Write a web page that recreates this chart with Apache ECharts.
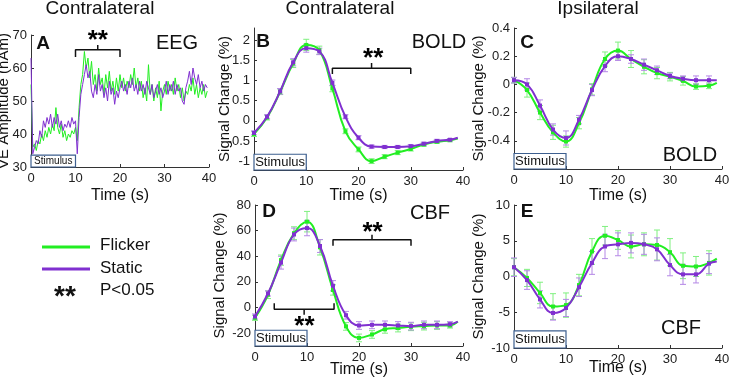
<!DOCTYPE html>
<html>
<head>
<meta charset="utf-8">
<script src="https://cdn.jsdelivr.net/npm/echarts@6/dist/echarts.min.js"></script>
<style>
html, body { margin: 0; padding: 0; background: #fff; }
#main { width: 729px; height: 377px; }
</style>
</head>
<body>
<div id="main"></div>
<script>
// EEG virtual electrode amplitude, one value every 0.4 s
const eegStep = 0.4;
const eegFlicker = [
  55, 36, 37, 35, 38, 37, 40, 38, 41, 39,
  42, 40, 43, 41, 48, 42, 40, 43, 39, 41,
  38, 40, 39, 41, 40, 42, 38, 48, 55, 58,
  65, 60, 63, 57, 62, 55, 58, 53, 60, 55,
  57, 52, 58, 54, 59, 53, 56, 52, 57, 53,
  58, 54, 57, 53, 56, 54, 58, 55, 60, 54,
  57, 53, 56, 51, 54, 50, 61, 52, 55, 50,
  54, 51, 56, 47, 53, 55, 52, 56, 53, 55,
  52, 57, 53, 55, 51, 54, 50, 53, 52, 55,
  53, 57, 52, 55, 51, 54, 52, 55, 51, 53
];
const eegStatic = [
  63, 34, 36, 38, 37, 41, 39, 44, 42, 45,
  43, 46, 42, 45, 43, 46, 42, 44, 41, 43,
  42, 44, 42, 45, 43, 44, 34, 45, 52, 55,
  58, 61, 57, 59, 53, 51, 55, 52, 58, 53,
  55, 51, 54, 50, 56, 52, 54, 49, 53, 51,
  54, 56, 53, 55, 52, 56, 54, 57, 53, 55,
  52, 56, 53, 55, 52, 56, 54, 52, 55, 51,
  53, 55, 52, 54, 51, 53, 56, 52, 55, 53,
  56, 52, 55, 53, 54, 50, 49, 54, 56, 59,
  55, 60, 57, 55, 58, 54, 56, 53, 55, 54
];

// fMRI time points (s); last one is the curve end, no marker
const fmriTime = [0, 2.5, 5, 7.5, 10, 12.5, 15, 17.5, 20, 22.5, 25, 27.5, 30, 32.5, 35, 37.5, 39];

// B: contralateral BOLD (%)
const boldContraFlicker = [-0.33, 0.08, 0.72, 1.42, 1.88, 1.75, 0.8, -0.26, -0.71, -1.0, -0.89, -0.79, -0.7, -0.59, -0.52, -0.48, -0.44];
const boldContraStatic  = [-0.3, 0.1, 0.73, 1.45, 1.8, 1.72, 0.94, 0.1, -0.42, -0.64, -0.65, -0.65, -0.63, -0.57, -0.5, -0.47, -0.42];
const boldContraFlickerErr = [0.06, 0.06, 0.07, 0.1, 0.14, 0.1, 0.08, 0.06, 0.06, 0.06, 0.05, 0.05, 0.05, 0.04, 0.04, 0.04];
const boldContraStaticErr  = [0.05, 0.05, 0.07, 0.09, 0.1, 0.08, 0.07, 0.05, 0.05, 0.04, 0.04, 0.04, 0.04, 0.04, 0.04, 0.03];

// C: ipsilateral BOLD (%)
const boldIpsiFlicker = [0.03, -0.04, -0.2, -0.34, -0.405, -0.275, -0.035, 0.18, 0.24, 0.18, 0.125, 0.08, 0.055, 0.025, -0.015, -0.01, 0.01];
const boldIpsiStatic  = [0.03, 0.0, -0.15, -0.32, -0.38, -0.25, -0.04, 0.13, 0.2, 0.18, 0.14, 0.1, 0.06, 0.04, 0.03, 0.03, 0.03];
const boldIpsiFlickerErr = [0.02, 0.05, 0.05, 0.05, 0.04, 0.04, 0.04, 0.05, 0.06, 0.06, 0.05, 0.04, 0.03, 0.03, 0.02, 0.02];
const boldIpsiStaticErr  = [0.02, 0.04, 0.04, 0.04, 0.05, 0.03, 0.04, 0.04, 0.03, 0.03, 0.04, 0.03, 0.02, 0.02, 0.03, 0.03];

// D: contralateral CBF (%)
const cbfContraFlicker = [-8, 10, 37, 58, 67, 47, 13.7, -14.7, -23.7, -21, -17, -16, -15, -14.5, -14, -14, -11];
const cbfContraStatic  = [-7, 11, 35, 57, 62, 48, 17, -6, -14, -13.5, -13.5, -14, -14.5, -13.5, -13.5, -13, -11];
const cbfContraFlickerErr = [2, 3, 4, 5, 8, 6, 4, 3, 3, 3, 3, 3, 3, 3, 3, 2];
const cbfContraStaticErr  = [2, 2, 5, 5, 6, 5, 4, 3, 3, 3, 3, 3, 3, 3, 3, 2];

// E: ipsilateral CBF (%)
const cbfIpsiFlicker = [1.3, -0.2, -2.3, -4.2, -4.0, -1.2, 3.5, 5.7, 5.1, 4.2, 4.5, 4.4, 3.4, 1.5, 1.4, 1.9, 2.5];
const cbfIpsiStatic  = [1.3, -0.5, -3.2, -5.1, -4.4, -1.5, 1.9, 4.2, 4.5, 4.7, 4.5, 3.8, 1.6, 0.3, 0.3, 1.8, 2.1];
const cbfIpsiFlickerErr = [1.2, 1.2, 1.5, 1.8, 1.7, 1.5, 1.8, 1.3, 1.3, 1.6, 1.6, 2.1, 1.9, 1.8, 1.4, 1.7];
const cbfIpsiStaticErr  = [1.3, 1.3, 1.2, 1.0, 1.2, 1.3, 1.6, 1.7, 1.6, 1.4, 1.4, 1.6, 1.5, 1.4, 1.2, 1.4];

// significance brackets: [start, end, level] in data units
const sigA  = [10, 20, 65.5];
const sigB  = [15, 30, 1.3];
const sigD1 = [15, 30, 52.9];
const sigD2 = [3.7, 15.2, -1.4];

const GREEN = "#22ee22";
const PURPLE = "#8030d0";
const GREEN_ERR = "#7ff07f";
const PURPLE_ERR = "#b487e6";
const FONT = "Liberation Sans";

const chart = echarts.init(document.getElementById("main"));

function xAxisCfg(idx, gap) {
  return {
    gridIndex: idx, type: "value", min: 0, max: 40, interval: 10,
    name: "Time (s)", nameLocation: "middle", nameGap: gap, nameMoveOverlap: false,
    nameTextStyle: { fontSize: 16, color: "#111", fontFamily: FONT },
    axisLine: { onZero: false, lineStyle: { color: "#333" } },
    axisTick: { inside: true, length: 3, lineStyle: { color: "#333" } },
    axisLabel: { fontSize: 13, color: "#222", margin: 5, fontFamily: FONT },
    splitLine: { show: false },
  };
}

function yAxisCfg(idx, min, max, name, gap, extra, labelExtra) {
  return Object.assign({
    gridIndex: idx, type: "value", min: min, max: max,
    name: name, nameLocation: "middle", nameGap: gap, nameRotate: 90, nameMoveOverlap: false,
    nameTextStyle: { fontSize: 15, color: "#111", fontFamily: FONT },
    axisLine: { show: true, onZero: false, lineStyle: { color: "#333" } },
    axisTick: { show: true, inside: true, length: 3, lineStyle: { color: "#333" } },
    axisLabel: Object.assign({ fontSize: 13, color: "#222", margin: 4, fontFamily: FONT, showMinLabel: false, showMaxLabel: true }, labelExtra || {}),
    splitLine: { show: false },
  }, extra || {});
}

function stimArea(bottom, top, fontSize) {
  return {
    silent: true,
    itemStyle: { color: "#ffffff", borderColor: "#3d5f8f", borderWidth: 1.2 },
    label: { show: true, position: "inside", color: "#111", fontSize: fontSize, fontFamily: FONT, formatter: "Stimulus" },
    data: [[{ xAxis: 0, yAxis: bottom }, { xAxis: 10, yAxis: top }]],
  };
}

function fmriLine(idx, vals, color, z, stim) {
  const s = {
    type: "line", xAxisIndex: idx, yAxisIndex: idx, smooth: 0.45,
    symbol: "rect", symbolSize: 4, z: z, animation: false,
    data: vals.map((v, i) => (i < vals.length - 1 ? [fmriTime[i], v] : { value: [fmriTime[i], v], symbol: "none" })),
    lineStyle: { color: color, width: 2 },
    itemStyle: { color: color },
  };
  if (stim) s.markArea = stimArea(stim[0], stim[1], 13);
  return s;
}

function errBars(idx, vals, errs, color) {
  const data = errs.map((e, i) => [fmriTime[i], vals[i] - e, vals[i] + e]);
  return {
    type: "custom", xAxisIndex: idx, yAxisIndex: idx, z: 1, silent: true, animation: false,
    data: data, encode: { x: 0, y: [1, 2] },
    renderItem: function (params, api) {
      const lo = api.coord([api.value(0), api.value(1)]);
      const hi = api.coord([api.value(0), api.value(2)]);
      const w = 3;
      const st = { stroke: color, lineWidth: 1 };
      return {
        type: "group",
        children: [
          { type: "line", shape: { x1: lo[0], y1: lo[1], x2: hi[0], y2: hi[1] }, style: st },
          { type: "line", shape: { x1: lo[0] - w, y1: lo[1], x2: lo[0] + w, y2: lo[1] }, style: st },
          { type: "line", shape: { x1: hi[0] - w, y1: hi[1], x2: hi[0] + w, y2: hi[1] }, style: st },
        ],
      };
    },
  };
}

// bracket: horizontal bar with ends bent by "tip" and a centre nub of "nub"
function bracket(idx, sig, tip, nub, starY, starX) {
  const a = sig[0], b = sig[1], y = sig[2], m = (a + b) / 2;
  return [
    {
      type: "line", xAxisIndex: idx, yAxisIndex: idx, symbol: "none", z: 5, animation: false,
      lineStyle: { color: "#111", width: 1.5 },
      data: [[a, y + tip], [a, y], [m, y], [m, y + nub], [m, y], [b, y], [b, y + tip]],
    },
    {
      type: "scatter", xAxisIndex: idx, yAxisIndex: idx, symbolSize: 0, z: 5, animation: false,
      itemStyle: { opacity: 1 },
      data: [[starX !== undefined ? starX : m, starY]],
      label: { show: true, position: "inside", formatter: "**", fontSize: 26, fontWeight: "bold", color: "#000", opacity: 1, fontFamily: FONT },
    },
  ];
}

const eegSeries = (vals, color, z, stim) => {
  const s = {
    type: "line", xAxisIndex: 0, yAxisIndex: 0, symbol: "none", z: z, animation: false,
    data: vals.map((v, i) => [+(i * eegStep).toFixed(1), v]),
    lineStyle: { color: color, width: 1 },
  };
  if (stim) s.markArea = stimArea(30, 33.6, 10);
  return s;
};

const series = [
  eegSeries(eegFlicker, GREEN, 2, false),
  eegSeries(eegStatic, PURPLE, 3, true),
  ...bracket(0, sigA, -2.2, 1.5, 68.2),

  errBars(1, boldContraFlicker, boldContraFlickerErr, GREEN_ERR),
  errBars(1, boldContraStatic, boldContraStaticErr, PURPLE_ERR),
  fmriLine(1, boldContraFlicker, GREEN, 2, [-1.22, -0.83]),
  fmriLine(1, boldContraStatic, PURPLE, 3),
  ...bracket(1, sigB, -0.14, 0.13, 1.53, 22.8),

  errBars(2, boldIpsiFlicker, boldIpsiFlickerErr, GREEN_ERR),
  errBars(2, boldIpsiStatic, boldIpsiStaticErr, PURPLE_ERR),
  fmriLine(2, boldIpsiFlicker, GREEN, 2, [-0.6, -0.49]),
  fmriLine(2, boldIpsiStatic, PURPLE, 3),

  errBars(3, cbfContraFlicker, cbfContraFlickerErr, GREEN_ERR),
  errBars(3, cbfContraStatic, cbfContraStaticErr, PURPLE_ERR),
  fmriLine(3, cbfContraFlicker, GREEN, 2, [-30, -17.7]),
  fmriLine(3, cbfContraStatic, PURPLE, 3),
  ...bracket(3, sigD1, -4.7, 3.8, 58.3, 22.6),
  ...bracket(3, sigD2, 4.7, -4.3, -15.3, 9.5),

  errBars(4, cbfIpsiFlicker, cbfIpsiFlickerErr, GREEN_ERR),
  errBars(4, cbfIpsiStatic, cbfIpsiStaticErr, PURPLE_ERR),
  fmriLine(4, cbfIpsiFlicker, GREEN, 2, [-10, -7.6]),
  fmriLine(4, cbfIpsiStatic, PURPLE, 3),
];

function txt(x, y, text, size, bold, align) {
  return {
    type: "text", x: x, y: y, z: 100,
    style: {
      text: text, fill: "#111", font: (bold ? "bold " : "") + size + "px " + FONT,
      textAlign: align || "center", textVerticalAlign: "middle",
    },
  };
}

const gridBase = { outerBoundsMode: "none", containLabel: false };

chart.setOption({
  backgroundColor: "#ffffff",
  animation: false,
  grid: [
    Object.assign({ left: 31, top: 35, width: 178, height: 132 }, gridBase),
    Object.assign({ left: 254, top: 28, width: 209, height: 142 }, gridBase),
    Object.assign({ left: 514, top: 28, width: 208, height: 141 }, gridBase),
    Object.assign({ left: 255, top: 205, width: 208, height: 141 }, gridBase),
    Object.assign({ left: 514, top: 205, width: 208, height: 143 }, gridBase),
  ],
  xAxis: [
    xAxisCfg(0, 21),
    xAxisCfg(1, 18),
    xAxisCfg(2, 19),
    xAxisCfg(3, 16),
    xAxisCfg(4, 12),
  ],
  yAxis: [
    yAxisCfg(0, 30, 70, "VE Amplitude (nAm)", 19.5, { interval: 10 }, { showMinLabel: true }),
    yAxisCfg(1, -1.22, 2.3, "Signal Change (%)", 22, { splitNumber: 8 }, { showMaxLabel: false }),
    yAxisCfg(2, -0.6, 0.4, "Signal Change (%)", 28),
    yAxisCfg(3, -30, 80, "Signal Change (%)", 28),
    yAxisCfg(4, -10, 10, "Signal Change (%)", 28, { interval: 5 }, { showMinLabel: true }),
  ],
  series: series,
  graphic: [
    txt(100, 9, "Contralateral", 19),
    txt(340, 9, "Contralateral", 19),
    txt(598, 9, "Ipsilateral", 19),
    txt(43, 44, "A", 19, true),
    txt(263, 42, "B", 19, true),
    txt(527, 43, "C", 19, true),
    txt(269, 212, "D", 19, true),
    txt(527, 212, "E", 19, true),
    txt(177, 43, "EEG", 20),
    txt(439, 42, "BOLD", 20),
    txt(690, 155, "BOLD", 20),
    txt(430, 213, "CBF", 20),
    txt(681, 328, "CBF", 20),
    { type: "line", shape: { x1: 42, y1: 247, x2: 90, y2: 247 }, style: { stroke: GREEN, lineWidth: 3 } },
    { type: "line", shape: { x1: 42, y1: 269, x2: 90, y2: 269 }, style: { stroke: PURPLE, lineWidth: 3 } },
    txt(100, 245, "Flicker", 17, false, "left"),
    txt(100, 268, "Static", 17, false, "left"),
    txt(100, 290, "P<0.05", 17, false, "left"),
    txt(65, 297, "**", 28, true),
  ],
});
</script>
</body>
</html>
